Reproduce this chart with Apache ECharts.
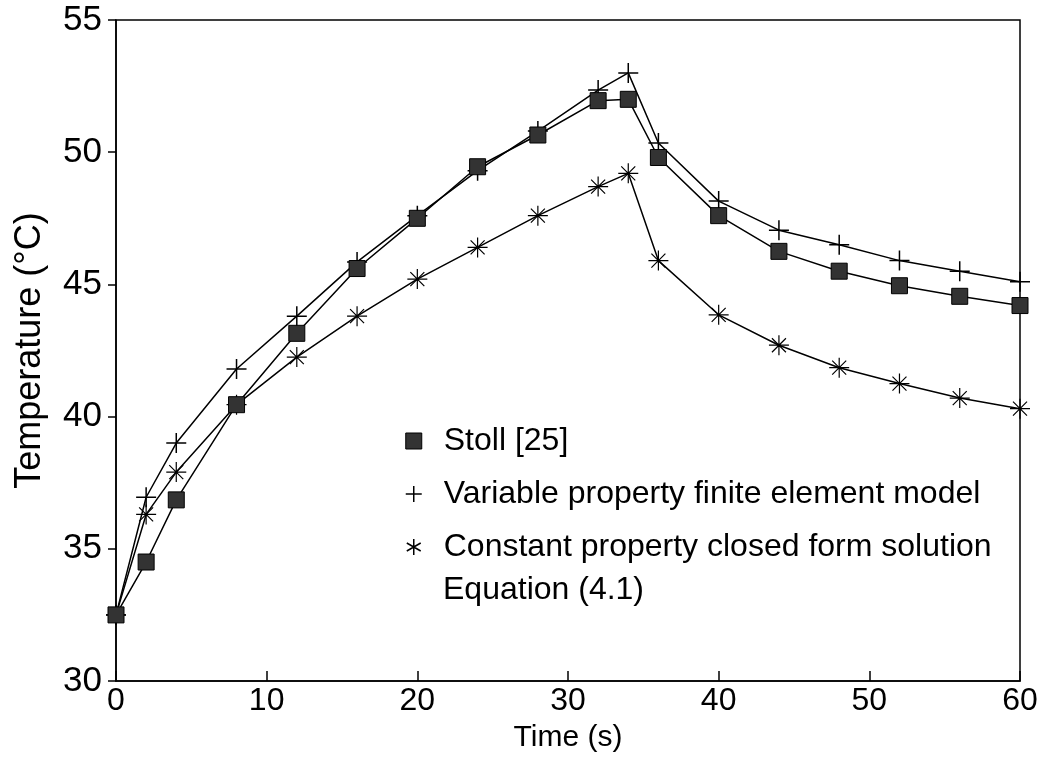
<!DOCTYPE html>
<html>
<head>
<meta charset="utf-8">
<script src="https://cdn.jsdelivr.net/npm/echarts@6/dist/echarts.min.js"></script>
<style>
  html, body { margin: 0; padding: 0; background: #fff; }
  #chart { width: 1046px; height: 768px; }
</style>
</head>
<body>
<div id="chart"></div>
<script>
// time points (s)
var times = [0, 2, 4, 8, 12, 16, 20, 24, 28, 32, 34, 36, 40, 44, 48, 52, 56, 60];
// Stoll [25]
var stoll = [32.5, 34.5, 36.85, 40.45, 43.15, 45.6, 47.5, 49.45, 50.65, 51.95, 52.0, 49.8, 47.6, 46.25, 45.5, 44.95, 44.55, 44.2];
// variable property finite element model
var varProp = [32.5, 36.95, 39.0, 41.8, 43.8, 45.85, 47.6, 49.3, 50.8, 52.35, 53.0, 50.35, 48.15, 47.05, 46.5, 45.9, 45.5, 45.1];
// constant property closed form solution
var constProp = [32.5, 36.3, 37.9, 40.45, 42.25, 43.8, 45.2, 46.4, 47.6, 48.7, 49.2, 45.9, 43.85, 42.7, 41.85, 41.25, 40.7, 40.3];
var xTicks = [0, 60, 10];
var yTicks = [30, 55, 5];

var names = ['Stoll [25]', 'Variable property finite element model', 'Constant property closed form solution'];
var font = 'Liberation Sans, Arial, sans-serif';
var plusPath = 'path://M0,-10 L0,10 M-10,0 L10,0';
var starPath = 'path://M0,-10 L0,10 M-10,0 L10,0 M-7,-7 L7,7 M-7,7 L7,-7';
var legStar = 'path://M0,-10 L0,10 M-8.7,-5 L8.7,5 M-8.7,5 L8.7,-5';

function pairs(vals) {
  return times.map(function(t, i) { return [t, vals[i]]; });
}

var chart = echarts.init(document.getElementById('chart'));
var option = {
  backgroundColor: '#fff',
  animation: false,
  grid: {
    left: 116, right: 26, top: 20, bottom: 87,
    show: true, borderColor: '#000', borderWidth: 1.5
  },
  legend: {
    orient: 'vertical',
    left: 400, top: 420,
    itemGap: 21,
    itemWidth: 16, itemHeight: 16,
    textStyle: { fontFamily: font, fontSize: 32, color: '#000', padding: [0, 0, 0, 17] },
    data: [
      { name: names[0], icon: 'rect', itemStyle: { color: '#333', borderColor: '#000', borderWidth: 1 } },
      { name: names[1], icon: plusPath, itemStyle: { color: '#000', borderColor: '#000', borderWidth: 1.5 } },
      { name: names[2], icon: legStar, itemStyle: { color: '#000', borderColor: '#000', borderWidth: 1.5 } }
    ]
  },
  graphic: [{
    type: 'text', left: 443, top: 574,
    style: { text: 'Equation (4.1)', font: '32px ' + font, fill: '#000' }
  }],
  xAxis: {
    type: 'value', min: xTicks[0], max: xTicks[1], interval: xTicks[2],
    name: 'Time (s)', nameLocation: 'middle', nameGap: 42,
    nameTextStyle: { fontFamily: font, fontSize: 30, color: '#000' },
    axisLine: { lineStyle: { color: '#000', width: 1.5 } },
    axisTick: { inside: true, length: 10, lineStyle: { color: '#000', width: 1.5 } },
    axisLabel: { fontFamily: font, fontSize: 32, color: '#000', margin: 4 },
    splitLine: { show: false }
  },
  yAxis: {
    type: 'value', min: yTicks[0], max: yTicks[1], interval: yTicks[2],
    name: 'Temperature (°C)', nameLocation: 'middle', nameGap: 68,
    nameTextStyle: { fontFamily: font, fontSize: 36, color: '#000' },
    axisLine: { lineStyle: { color: '#000', width: 1.5 } },
    axisTick: { length: 8, lineStyle: { color: '#000', width: 1.5 } },
    axisLabel: { fontFamily: font, fontSize: 35, color: '#000', margin: 14 },
    splitLine: { show: false }
  },
  series: [
    {
      name: names[0], type: 'line', data: pairs(stoll),
      symbol: 'rect', symbolSize: 16,
      lineStyle: { color: '#000', width: 1.5 },
      itemStyle: { color: '#333', borderColor: '#000', borderWidth: 1 },
      z: 4
    },
    {
      name: names[1], type: 'line', data: pairs(varProp),
      symbol: plusPath, symbolSize: 20,
      lineStyle: { color: '#000', width: 1.5 },
      itemStyle: { color: '#000', borderColor: '#000', borderWidth: 1.5 },
      z: 3
    },
    {
      name: names[2], type: 'line', data: pairs(constProp),
      symbol: starPath, symbolSize: 20,
      lineStyle: { color: '#000', width: 1.5 },
      itemStyle: { color: '#000', borderColor: '#000', borderWidth: 1.2 },
      z: 3
    }
  ]
};
chart.setOption(option);
</script>
</body>
</html>
